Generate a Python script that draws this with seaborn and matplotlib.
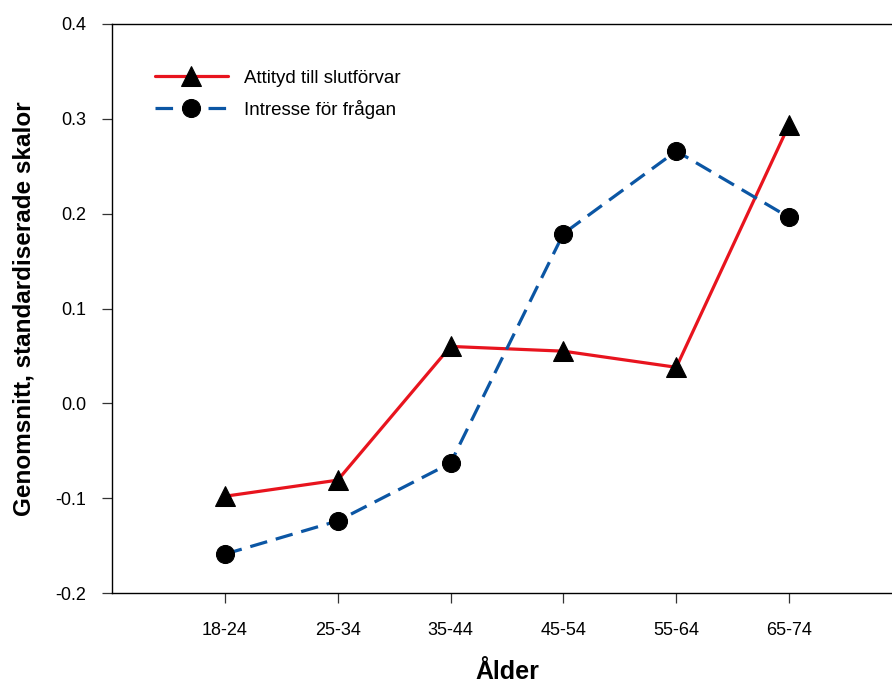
import matplotlib
matplotlib.use("Agg")
import matplotlib.pyplot as plt
import seaborn as sns
import pandas as pd
import numpy as np

categories = ["18-24", "25-34", "35-44", "45-54", "55-64", "65-74"]
attityd = [-0.098, -0.081, 0.060, 0.055, 0.038, 0.294]
intresse = [-0.159, -0.124, -0.063, 0.179, 0.266, 0.196]
series_names = ["Attityd till slutförvar", "Intresse för frågan"]
y_ticks = [-0.2, -0.1, 0.0, 0.1, 0.2, 0.3, 0.4]

sns.set_theme(style="white")
plt.rcParams["font.family"] = ["Liberation Sans", "DejaVu Sans"]
plt.rcParams["text.color"] = "black"
plt.rcParams["axes.labelcolor"] = "black"

df = pd.DataFrame({
    "pos": list(range(len(categories))) * 2,
    "value": attityd + intresse,
    "serie": [series_names[0]] * len(categories) + [series_names[1]] * len(categories),
})

fig = plt.figure(figsize=(8.92, 6.84), dpi=100)
ax = fig.add_axes([112 / 892, 1 - 593 / 684, 790 / 892, 569 / 684])

d1 = df[df.serie == series_names[0]]
d2 = df[df.serie == series_names[1]]
sns.lineplot(data=d1, x="pos", y="value", ax=ax, color="#E8141E", linewidth=2.3,
             marker="^", markersize=14, markerfacecolor="black", markeredgecolor="black",
             label=series_names[0], sort=False)
sns.lineplot(data=d2, x="pos", y="value", ax=ax, color="#0B56A4", linewidth=2.3,
             marker="o", markersize=13, markerfacecolor="black", markeredgecolor="black",
             label=series_names[1], sort=False, dashes=False)
ax.lines[1].set_dashes([5.5, 2.8])

ax.set_xlim(-1, 6)
ax.set_ylim(-0.2, 0.4)
ax.set_xticks(range(len(categories)))
ax.set_xticklabels(categories)
ax.set_yticks(y_ticks)
ax.set_yticklabels([f"{v:.1f}" for v in y_ticks])
ax.tick_params(axis="both", direction="out", length=7, width=0.9, color="#333333",
               labelsize=13, labelcolor="black", bottom=True, left=True)
ax.tick_params(axis="x", pad=14)
ax.tick_params(axis="y", pad=11.5)

for s in ["left", "bottom", "top"]:
    ax.spines[s].set_visible(True)
    ax.spines[s].set_color("black")
    ax.spines[s].set_linewidth(1.0)
ax.spines["right"].set_visible(False)

ax.set_xlabel("Ålder", fontsize=18, fontweight="bold", labelpad=15)
ax.set_ylabel("Genomsnitt, standardiserade skalor", fontsize=17.5, fontweight="bold", labelpad=14)

leg = ax.legend(loc="upper left", bbox_to_anchor=(0.054, 0.92), frameon=False,
                fontsize=13.5, handlelength=3.9, handletextpad=0.85, labelspacing=0.7,
                borderpad=0, borderaxespad=0)
leg.get_lines()[1].set_dashes([5.5, 2.8])

fig.savefig("out.png", dpi=100)
